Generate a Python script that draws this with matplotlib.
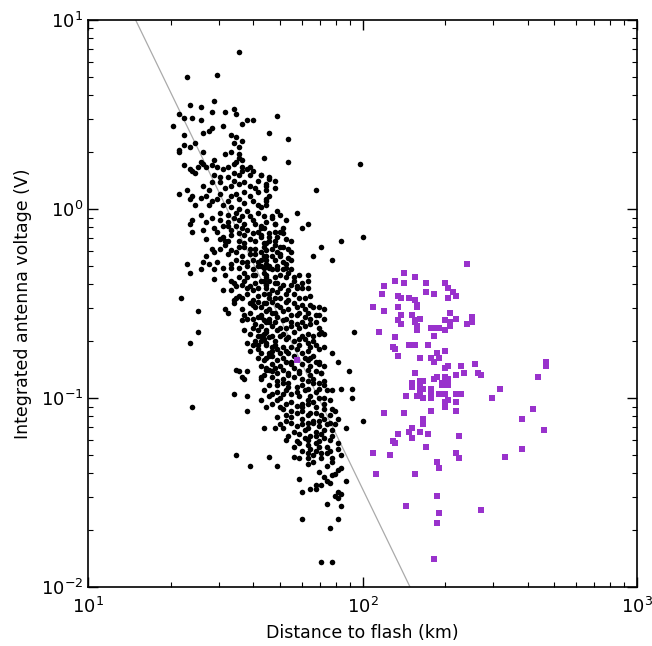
import numpy as np
import matplotlib
matplotlib.use('Agg')
from matplotlib import pyplot as plt

plt.rcParams['font.family'] = ['DejaVu Sans']
plt.rcParams['axes.unicode_minus'] = False

# values, stored as log10 (distance in km, voltage in V)
# nearby flashes (black dots)
near_log_dist = [
    1.55, 1.36, 1.47, 1.37, 1.41, 1.46, 1.33, 1.35, 1.38, 1.41,
    1.45, 1.50, 1.53, 1.54, 1.58, 1.60, 1.31, 1.45, 1.49, 1.56,
    1.44, 1.42, 1.35, 1.52, 1.54, 1.66, 1.56, 1.39, 1.35, 1.37,
    1.53, 1.55, 1.33, 1.33, 1.42, 1.52, 1.50, 1.55, 1.55, 1.56,
    1.46, 1.64, 1.41, 1.42, 1.35, 1.53, 1.54, 1.45, 1.47, 1.37,
    1.43, 1.56, 1.59, 1.58, 1.69, 1.73, 1.73, 1.99,
    1.38, 1.39, 1.46, 1.48, 1.51, 1.53, 1.55, 1.56, 1.59, 1.60,
    1.63, 1.66, 1.45, 1.48, 1.53, 1.55, 1.57, 1.59, 1.62, 1.65,
    1.33, 1.36, 1.38, 1.37, 1.44, 1.43, 1.41, 1.45, 1.48, 1.52,
    1.54, 1.57, 1.59, 1.62, 1.65, 1.39, 1.44, 1.49, 1.52, 1.55,
    1.57, 1.62, 1.65, 1.58, 1.62, 1.41, 1.48, 1.51, 1.54, 1.56,
    1.59, 1.64, 1.38, 1.43, 1.45, 1.48, 1.51, 1.55, 1.57, 1.61,
    1.65, 1.37, 1.46, 1.49, 1.52, 1.54, 1.58, 1.63, 1.38, 1.42,
    1.57, 1.60, 1.52, 1.49, 1.43, 1.48, 1.51, 1.55, 1.59, 1.63,
    1.66, 1.45, 1.50, 1.52, 1.57, 1.61, 1.64, 1.46, 1.54, 1.59,
    1.63, 1.43, 1.36, 1.42, 1.44, 1.52, 1.56, 1.60, 1.63, 1.65,
    1.41, 1.37, 1.46, 1.52, 1.55, 1.58, 1.62, 1.64, 1.66, 1.46,
    1.52, 1.55, 1.58, 1.61, 1.63, 1.65, 1.49, 1.54, 1.56, 1.59,
    1.62, 1.65, 1.34, 1.55, 1.58, 1.62, 1.64, 1.66, 1.54,
    1.63, 1.66, 1.68, 1.65, 1.68, 1.83, 1.66, 1.65, 1.65, 1.63,
    1.69, 1.76, 1.70, 1.67, 1.72, 1.80, 1.78, 1.68, 1.71, 1.64,
    1.68, 1.71, 1.63, 1.66, 1.69, 1.72, 1.74, 1.92, 2.00, 1.85,
    1.65, 1.68, 1.71, 1.74, 1.65, 1.69, 1.82, 1.89, 1.64, 1.67,
    1.70, 1.73, 1.65, 1.69, 1.72, 1.63, 1.67, 1.71, 1.74, 1.65,
    1.68, 1.72, 1.75, 1.80, 1.80, 1.64, 1.68, 1.71, 1.74, 1.76,
    1.78, 1.80, 1.65, 1.69, 1.72, 1.75, 1.81, 1.66, 1.70, 1.77,
    1.40, 1.40, 1.37, 1.50, 1.51, 1.53, 1.53, 1.56, 1.57, 1.59,
    1.60, 1.62, 1.63, 1.65, 1.60, 1.63, 1.65, 1.57, 1.59, 1.62,
    1.62, 1.63, 1.65, 1.58, 1.60, 1.63, 1.65, 1.59, 1.62, 1.66,
    1.54, 1.55, 1.58, 1.56, 1.57, 1.63, 1.65, 1.66, 1.64, 1.53,
    1.58, 1.63, 1.66, 1.38, 1.58, 1.64,
    1.64, 1.67, 1.69, 1.72, 1.75, 1.78, 1.81, 1.84, 1.86,
    1.65, 1.68, 1.71, 1.74, 1.77, 1.83, 1.86,
    1.64, 1.68, 1.71, 1.74, 1.78, 1.81, 1.85, 1.97, 1.86,
    1.65, 1.69, 1.72, 1.75, 1.80, 1.82,
    1.63, 1.66, 1.70, 1.73, 1.77, 1.80, 1.83, 1.86,
    1.65, 1.68, 1.71, 1.74, 1.89,
    1.63, 1.66, 1.70, 1.73, 1.78, 1.81, 1.84, 1.91,
    1.65, 1.69, 1.72, 1.78, 1.86, 1.95,
    1.65, 1.68, 1.71, 1.75, 1.80, 1.83,
    1.67, 1.71, 1.75, 1.78, 1.82, 1.86, 1.63,
    1.69, 1.73, 1.76, 1.80, 1.84, 1.89, 1.92, 1.96,
    1.67, 1.71, 1.74, 1.77, 1.81, 1.86, 1.88, 1.96,
    1.69, 1.72, 1.76, 1.80, 1.83, 1.89,
    1.65, 1.70, 1.74, 1.78, 1.81, 1.85, 1.90,
    1.69, 1.74, 1.78, 1.82, 1.86, 1.91, 2.00,
    1.68, 1.71, 1.76, 1.80, 1.84, 1.89, 1.90, 1.94,
    1.77, 1.81, 1.85, 1.89, 1.73,
    1.54, 1.59, 1.66, 1.69, 1.72, 1.75, 1.77, 1.78, 1.80, 1.81,
    1.83, 1.84, 1.85, 1.87, 1.88, 1.91, 1.91, 1.92, 1.75, 1.77,
    1.80, 1.82, 1.85, 1.89, 1.80, 1.82, 1.87, 1.89, 1.91, 1.92,
    1.84, 1.90, 1.89, 1.77, 1.86, 1.87, 1.88, 1.94, 1.83, 1.85,
    1.81, 1.83, 1.78, 1.91, 1.92, 1.90, 1.91, 1.87, 1.92, 1.78,
    1.91, 1.88, 1.85, 1.89,
]
near_log_volt = [
    0.83, 0.70, 0.71, 0.55, 0.54, 0.57, 0.50, 0.48, 0.48, 0.47,
    0.51, 0.51, 0.53, 0.50, 0.47, 0.47, 0.44, 0.43, 0.44, 0.45,
    0.41, 0.40, 0.39, 0.39, 0.38, 0.40, 0.36, 0.35, 0.34, 0.33,
    0.35, 0.33, 0.31, 0.30, 0.30, 0.30, 0.29, 0.29, 0.27, 0.26,
    0.26, 0.27, 0.25, 0.24, 0.23, 0.24, 0.25, 0.23, 0.22, 0.21,
    0.22, 0.22, 0.22, 0.21, 0.49, 0.37, 0.25, 0.24,
    0.20, 0.19, 0.18, 0.17, 0.17, 0.19, 0.18, 0.20, 0.18, 0.20,
    0.18, 0.17, 0.14, 0.14, 0.15, 0.13, 0.14, 0.12, 0.15, 0.13,
    0.08, 0.10, 0.07, 0.05, 0.10, 0.07, 0.06, 0.04, 0.08, 0.07,
    0.08, 0.09, 0.07, 0.09, 0.10, 0.02, 0.02, 0.02, 0.01, 0.00,
    0.03, 0.02, 0.04, -0.01, -0.02, -0.03, -0.02, -0.03, -0.02, -0.04,
    -0.04, -0.04, -0.06, -0.07, -0.05, -0.06, -0.07, -0.06, -0.08, -0.08,
    -0.07, -0.08, -0.10, -0.09, -0.11, -0.09, -0.11, -0.10, -0.12, -0.11,
    -0.14, -0.13, -0.14, -0.15, -0.16, -0.16, -0.17, -0.17, -0.16, -0.15,
    -0.17, -0.21, -0.19, -0.22, -0.20, -0.21, -0.20, -0.23, -0.23, -0.24,
    -0.23, -0.25, -0.29, -0.28, -0.29, -0.29, -0.28, -0.27, -0.27, -0.27,
    -0.32, -0.34, -0.32, -0.31, -0.31, -0.30, -0.30, -0.31, -0.30, -0.37,
    -0.38, -0.36, -0.36, -0.35, -0.38, -0.36, -0.43, -0.41, -0.40, -0.41,
    -0.42, -0.40, -0.47, -0.46, -0.45, -0.46, -0.45, -0.47, -0.47,
    0.18, 0.16, 0.15, 0.12, 0.11, 0.10, 0.07, 0.05, 0.02, 0.01,
    -0.01, -0.02, -0.03, -0.05, -0.06, -0.08, -0.10, -0.08, -0.10, -0.10,
    -0.12, -0.13, -0.14, -0.15, -0.15, -0.16, -0.17, -0.17, -0.15, -0.20,
    -0.18, -0.19, -0.20, -0.23, -0.22, -0.23, -0.25, -0.27, -0.25, -0.25,
    -0.25, -0.26, -0.29, -0.30, -0.29, -0.30, -0.32, -0.32, -0.32, -0.35,
    -0.36, -0.36, -0.36, -0.35, -0.38, -0.38, -0.39, -0.40, -0.40, -0.41,
    -0.42, -0.42, -0.42, -0.44, -0.45, -0.45, -0.46, -0.45, -0.47, -0.47,
    -0.54, -0.65, -0.71, -0.53, -0.55, -0.50, -0.48, -0.59, -0.56, -0.50,
    -0.51, -0.49, -0.52, -0.50, -0.58, -0.57, -0.60, -0.64, -0.66, -0.64,
    -0.67, -0.62, -0.65, -0.71, -0.72, -0.70, -0.71, -0.75, -0.74, -0.78,
    -0.85, -0.86, -0.86, -0.89, -0.90, -0.89, -0.85, -0.85, -0.96, -0.98,
    -0.99, -1.01, -0.99, -1.05, -1.07, -1.16,
    -0.50, -0.49, -0.51, -0.49, -0.50, -0.51, -0.51, -0.52, -0.53,
    -0.54, -0.55, -0.54, -0.56, -0.55, -0.56, -0.58,
    -0.59, -0.60, -0.59, -0.60, -0.60, -0.61, -0.65, -0.65, -0.66,
    -0.64, -0.64, -0.63, -0.65, -0.66, -0.67,
    -0.67, -0.68, -0.67, -0.68, -0.69, -0.71, -0.72, -0.73,
    -0.72, -0.72, -0.73, -0.73, -0.76,
    -0.76, -0.76, -0.76, -0.76, -0.76, -0.79, -0.81, -0.81,
    -0.79, -0.80, -0.81, -0.82, -0.83, -0.86,
    -0.84, -0.84, -0.85, -0.84, -0.85, -0.86,
    -0.89, -0.90, -0.89, -0.90, -0.90, -0.91, -0.90,
    -0.93, -0.94, -0.94, -0.95, -0.95, -0.96, -0.95, -0.95,
    -0.98, -0.98, -0.98, -0.99, -0.99, -1.00, -1.01, -1.00,
    -1.01, -1.03, -1.04, -1.03, -1.05, -1.06,
    -1.05, -1.05, -1.07, -1.07, -1.08, -1.09, -1.07,
    -1.10, -1.10, -1.11, -1.12, -1.11, -1.11, -1.12,
    -1.16, -1.16, -1.15, -1.16, -1.15, -1.17, -1.14, -1.16,
    -1.19, -1.20, -1.19, -1.20, -1.20,
    -1.30, -1.36, -1.31, -1.36, -1.22, -1.26, -1.24, -1.28, -1.25, -1.27,
    -1.24, -1.26, -1.29, -1.26, -1.28, -1.24, -1.27, -1.30, -1.31, -1.32,
    -1.32, -1.30, -1.32, -1.32, -1.35, -1.34, -1.36, -1.34, -1.38, -1.37,
    -1.39, -1.40, -1.41, -1.43, -1.42, -1.44, -1.45, -1.44, -1.46, -1.46,
    -1.48, -1.48, -1.50, -1.50, -1.51, -1.52, -1.53, -1.56, -1.57, -1.64,
    -1.64, -1.69, -1.87, -1.87,
]

# extra dots in the solid core of the black cloud (estimated, overlapping)
core_log_dist = [
    1.53, 1.60, 1.67,
    1.47, 1.55, 1.62, 1.66, 1.70,
    1.48, 1.55, 1.59, 1.67, 1.70, 1.73,
    1.47, 1.54, 1.58, 1.62, 1.68, 1.71, 1.74,
    1.50, 1.57, 1.60, 1.64, 1.70, 1.73, 1.77,
    1.52, 1.58, 1.60, 1.67, 1.70, 1.73, 1.76,
    1.56, 1.61, 1.66, 1.70, 1.73, 1.76, 1.79, 1.82,
    1.58, 1.62, 1.66, 1.69, 1.72, 1.79, 1.81,
    1.60, 1.67, 1.70, 1.74, 1.77, 1.79, 1.84,
    1.61, 1.64, 1.68, 1.72, 1.75, 1.79, 1.82,
    1.67, 1.69, 1.72, 1.76, 1.80, 1.84,
    1.62, 1.67, 1.71, 1.75, 1.79, 1.82,
    1.63, 1.67, 1.70, 1.74, 1.81, 1.84,
    1.64, 1.69, 1.73, 1.77, 1.81, 1.85,
    1.66, 1.71, 1.78, 1.82, 1.86,
    1.69, 1.72, 1.76, 1.79, 1.83, 1.87,
    1.67, 1.74, 1.78, 1.82, 1.86,
    1.72, 1.76, 1.80, 1.83, 1.88,
    1.70, 1.74, 1.78, 1.82, 1.87,
    1.75, 1.79, 1.83, 1.86,
    1.76, 1.80, 1.84, 1.88,
    1.80, 1.83, 1.87,
    1.51, 1.56, 1.63, 1.68,
    1.50, 1.57, 1.61, 1.64, 1.68,
    1.51, 1.56, 1.61, 1.65, 1.70,
    1.49, 1.60, 1.66, 1.69, 1.72,
    1.53, 1.57, 1.61, 1.66, 1.69, 1.75, 1.78,
    1.56, 1.60, 1.68, 1.73, 1.79,
    1.59, 1.63, 1.67, 1.76, 1.80, 1.84,
    1.61, 1.66, 1.76, 1.83,
    1.64, 1.67, 1.71, 1.78, 1.84,
    1.62, 1.67, 1.77, 1.81,
    1.64, 1.74, 1.80, 1.83,
    1.67, 1.73, 1.77, 1.85,
    1.69, 1.73, 1.80, 1.84,
    1.70, 1.80, 1.84,
    1.71, 1.78, 1.86,
    1.72, 1.80, 1.84, 1.88,
    1.79, 1.83, 1.86,
    1.47, 1.51, 1.55, 1.60,
    1.42, 1.50, 1.52, 1.61,
    1.40, 1.49, 1.51,
]
core_log_volt = [
    -0.05, -0.06, -0.04,
    -0.12, -0.13, -0.12, -0.13, -0.12,
    -0.21, -0.20, -0.21, -0.21, -0.20, -0.21,
    -0.28, -0.27, -0.28, -0.28, -0.27, -0.28, -0.27,
    -0.35, -0.34, -0.35, -0.34, -0.35, -0.34, -0.35,
    -0.43, -0.42, -0.43, -0.43, -0.42, -0.43, -0.42,
    -0.53, -0.52, -0.53, -0.52, -0.53, -0.52, -0.53, -0.52,
    -0.58, -0.57, -0.58, -0.57, -0.58, -0.57, -0.58,
    -0.63, -0.62, -0.63, -0.62, -0.63, -0.62, -0.63,
    -0.70, -0.69, -0.70, -0.69, -0.70, -0.69, -0.70,
    -0.75, -0.74, -0.75, -0.74, -0.75, -0.74,
    -0.79, -0.78, -0.79, -0.78, -0.79, -0.78,
    -0.83, -0.82, -0.83, -0.82, -0.83, -0.82,
    -0.88, -0.87, -0.88, -0.87, -0.88, -0.87,
    -0.93, -0.92, -0.93, -0.92, -0.93,
    -0.97, -0.96, -0.97, -0.96, -0.97, -0.96,
    -1.03, -1.02, -1.03, -1.02, -1.03,
    -1.09, -1.08, -1.09, -1.08, -1.09,
    -1.14, -1.13, -1.14, -1.13, -1.14,
    -1.18, -1.17, -1.18, -1.17,
    -1.23, -1.22, -1.23, -1.22,
    -1.29, -1.28, -1.29,
    -0.09, -0.10, -0.09, -0.08,
    -0.17, -0.18, -0.17, -0.18, -0.17,
    -0.24, -0.25, -0.24, -0.25, -0.24,
    -0.31, -0.32, -0.31, -0.32, -0.31,
    -0.39, -0.38, -0.39, -0.38, -0.39, -0.38, -0.39,
    -0.47, -0.48, -0.47, -0.48, -0.47,
    -0.55, -0.56, -0.55, -0.56, -0.55, -0.56,
    -0.61, -0.60, -0.61, -0.60,
    -0.66, -0.67, -0.66, -0.67, -0.66,
    -0.72, -0.73, -0.72, -0.73,
    -0.80, -0.81, -0.80, -0.81,
    -0.86, -0.87, -0.86, -0.87,
    -0.91, -0.92, -0.91, -0.92,
    -1.00, -1.01, -1.00,
    -1.06, -1.05, -1.06,
    -1.12, -1.13, -1.12, -1.13,
    -1.21, -1.20, -1.21,
    0.05, 0.04, 0.05, 0.04,
    0.12, 0.11, 0.12, 0.11,
    0.22, 0.21, 0.22,
]

# distant flashes (purple squares)
far_log_dist = [
    2.38, 2.15, 2.19, 2.12, 2.15, 2.23, 2.30, 2.08, 2.31, 2.23,
    2.07, 2.26, 2.33, 2.34, 2.13, 2.14, 2.17, 2.19, 2.31, 2.20,
    2.04, 2.13, 2.20, 2.08, 2.32, 2.18, 2.14, 2.21, 2.40, 2.13,
    2.19, 2.30, 2.34, 2.32, 2.19, 2.38, 2.40, 2.14, 2.20, 2.25,
    2.27, 2.32, 2.28, 2.30, 2.20, 2.06, 2.12, 2.26, 2.17, 2.19,
    2.24, 2.11, 2.12, 2.30, 2.27, 2.13, 2.28, 2.21, 2.25, 2.26,
    2.30, 2.31, 2.36, 2.41, 2.67, 2.67, 2.19, 2.37, 2.42, 2.34,
    2.43, 2.27, 2.30, 2.31, 2.26, 2.64, 2.21, 2.22, 2.18, 2.29,
    2.29, 2.31, 2.21, 2.18, 2.22, 2.25, 2.50, 2.21, 2.16, 2.20,
    2.22, 2.25, 2.25, 2.28, 2.30, 2.34, 2.36, 2.47, 2.31, 2.30, 2.34,
    2.08, 2.15, 2.25, 2.30, 2.34, 2.62, 2.22, 2.22, 2.58, 2.66,
    2.18, 2.17, 2.21, 2.24, 2.13, 2.35, 2.18, 2.11, 2.12, 2.23,
    2.58, 2.04, 2.10, 2.34, 2.35, 2.52, 2.27, 2.28, 2.05, 2.19,
    2.27, 2.16, 2.43, 2.28, 2.27, 2.26, 1.76,
]
far_log_volt = [
    -0.29, -0.34, -0.36, -0.38, -0.39, -0.39, -0.39, -0.41, -0.42, -0.44,
    -0.45, -0.45, -0.44, -0.46, -0.46, -0.47, -0.47, -0.48, -0.47, -0.51,
    -0.52, -0.52, -0.52, -0.54, -0.55, -0.56, -0.56, -0.58, -0.57, -0.59,
    -0.59, -0.59, -0.58, -0.60, -0.60, -0.61, -0.60, -0.61, -0.62, -0.63,
    -0.63, -0.62, -0.63, -0.64, -0.64, -0.65, -0.68, -0.67, -0.72, -0.72,
    -0.72, -0.73, -0.74, -0.75, -0.76, -0.78, -0.79, -0.79, -0.79, -0.81,
    -0.84, -0.83, -0.83, -0.82, -0.81, -0.83, -0.87, -0.87, -0.87, -0.88,
    -0.88, -0.89, -0.89, -0.90, -0.90, -0.89, -0.91, -0.91, -0.92, -0.92,
    -0.93, -0.93, -0.94, -0.94, -0.95, -0.95, -0.95, -0.97, -0.99, -0.99,
    -1.00, -1.00, -0.98, -0.98, -0.98, -0.98, -0.98, -1.00, -1.01, -1.02, -1.02,
    -1.08, -1.08, -1.07, -1.05, -1.07, -1.06, -1.11, -1.14, -1.11, -1.17,
    -1.16, -1.18, -1.18, -1.19, -1.19, -1.20, -1.21, -1.23, -1.24, -1.26,
    -1.27, -1.29, -1.30, -1.29, -1.32, -1.31, -1.34, -1.37, -1.40, -1.40,
    -1.52, -1.57, -1.59, -1.61, -1.66, -1.85, -0.80,
]

# inverse-cube reference line: V = v0 * (d / d0)^-3
line_d0 = 14.9
line_v0 = 10.0
line_power = -3.0

near_dist = 10 ** np.array(near_log_dist + core_log_dist)
near_volt = 10 ** np.array(near_log_volt + core_log_volt)
far_dist = 10 ** np.array(far_log_dist)
far_volt = 10 ** np.array(far_log_volt)

fig = plt.figure(figsize=(6.52, 6.46), dpi=100)
ax = fig.add_axes([0.135, 0.0913, 0.842, 0.878])

line_x = np.array([10.0, 1000.0])
ax.plot(line_x, line_v0 * (line_x / line_d0) ** line_power,
        color='#aaaaaa', lw=0.9, zorder=1)

ax.scatter(near_dist, near_volt, s=16, c='black', marker='o',
           linewidths=0, zorder=2)
ax.scatter(far_dist, far_volt, s=22, c='#9932CC', marker='s',
           linewidths=0, zorder=3)

ax.set_xscale('log')
ax.set_yscale('log')
ax.set_xlim(10, 1000)
ax.set_ylim(0.01, 10)

ax.tick_params(which='both', direction='in', top=True, right=True,
               labelsize=13)
ax.tick_params(axis='x', which='major', pad=7)
ax.tick_params(which='major', length=7, width=1)
ax.tick_params(which='minor', length=3.5, width=0.8)
for sp in ax.spines.values():
    sp.set_linewidth(1.2)

ax.set_xlabel('Distance to flash (km)', fontsize=12.5, labelpad=5)
ax.set_ylabel('Integrated antenna voltage (V)', fontsize=12.5, labelpad=6)

plt.savefig('out.png', dpi=100)
plt.close('all')
